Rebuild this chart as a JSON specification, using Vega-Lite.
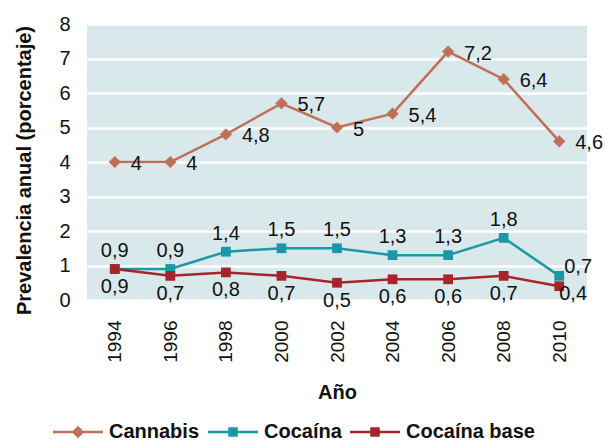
{
  "$schema": "https://vega.github.io/schema/vega-lite/v6.json",
  "width": 500,
  "height": 276,
  "autosize": {"type": "none"},
  "padding": {"left": 87, "top": 24, "right": 18, "bottom": 141},
  "background": "white",
  "config": {
    "font": "Liberation Sans",
    "view": {"fill": "#D9E8EA", "stroke": null},
    "locale": {
      "number": {"decimal": ",", "thousands": ".", "grouping": [3], "currency": ["", ""]}
    },
    "text": {"font": "Liberation Sans", "fontSize": 20, "color": "#111111"}
  },
  "data": {
    "values": [
      {"Año": "1994", "Sustancia": "Cannabis", "valor": 4},
      {"Año": "1996", "Sustancia": "Cannabis", "valor": 4},
      {"Año": "1998", "Sustancia": "Cannabis", "valor": 4.8},
      {"Año": "2000", "Sustancia": "Cannabis", "valor": 5.7},
      {"Año": "2002", "Sustancia": "Cannabis", "valor": 5},
      {"Año": "2004", "Sustancia": "Cannabis", "valor": 5.4},
      {"Año": "2006", "Sustancia": "Cannabis", "valor": 7.2},
      {"Año": "2008", "Sustancia": "Cannabis", "valor": 6.4},
      {"Año": "2010", "Sustancia": "Cannabis", "valor": 4.6},
      {"Año": "1994", "Sustancia": "Cocaína", "valor": 0.9},
      {"Año": "1996", "Sustancia": "Cocaína", "valor": 0.9},
      {"Año": "1998", "Sustancia": "Cocaína", "valor": 1.4},
      {"Año": "2000", "Sustancia": "Cocaína", "valor": 1.5},
      {"Año": "2002", "Sustancia": "Cocaína", "valor": 1.5},
      {"Año": "2004", "Sustancia": "Cocaína", "valor": 1.3},
      {"Año": "2006", "Sustancia": "Cocaína", "valor": 1.3},
      {"Año": "2008", "Sustancia": "Cocaína", "valor": 1.8},
      {"Año": "2010", "Sustancia": "Cocaína", "valor": 0.7},
      {"Año": "1994", "Sustancia": "Cocaína base", "valor": 0.9},
      {"Año": "1996", "Sustancia": "Cocaína base", "valor": 0.7},
      {"Año": "1998", "Sustancia": "Cocaína base", "valor": 0.8},
      {"Año": "2000", "Sustancia": "Cocaína base", "valor": 0.7},
      {"Año": "2002", "Sustancia": "Cocaína base", "valor": 0.5},
      {"Año": "2004", "Sustancia": "Cocaína base", "valor": 0.6},
      {"Año": "2006", "Sustancia": "Cocaína base", "valor": 0.6},
      {"Año": "2008", "Sustancia": "Cocaína base", "valor": 0.7},
      {"Año": "2010", "Sustancia": "Cocaína base", "valor": 0.4}
    ]
  },
  "encoding": {
    "x": {
      "field": "Año",
      "type": "ordinal",
      "scale": {"type": "point", "padding": 0.5},
      "axis": {
        "title": "Año",
        "titleFont": "Liberation Sans",
        "titleFontSize": 20,
        "titleFontWeight": "bold",
        "titleColor": "#111111",
        "titleBaseline": "middle",
        "titleY": 92,
        "labelAngle": -90,
        "labelFont": "Liberation Sans",
        "labelFontSize": 19,
        "labelColor": "#111111",
        "labelPadding": 20,
        "domain": false,
        "ticks": false,
        "grid": false
      }
    },
    "y": {
      "field": "valor",
      "type": "quantitative",
      "scale": {"domain": [0, 8], "nice": false},
      "axis": {
        "title": "Prevalencia anual (porcentaje)",
        "titleFont": "Liberation Sans",
        "titleFontSize": 20,
        "titleFontWeight": "bold",
        "titleColor": "#111111",
        "titleAngle": -90,
        "titleAlign": "center",
        "titleBaseline": "middle",
        "titleX": -63,
        "titleY": 146,
        "values": [0, 1, 2, 3, 4, 5, 6, 7, 8],
        "labelFont": "Liberation Sans",
        "labelFontSize": 20,
        "labelColor": "#111111",
        "labelPadding": 17,
        "domain": false,
        "ticks": false,
        "grid": true,
        "gridColor": "white",
        "gridWidth": 2.5,
        "gridOpacity": 1
      }
    }
  },
  "layer": [
    {
      "mark": {"type": "line", "strokeWidth": 2.5},
      "encoding": {
        "color": {
          "field": "Sustancia",
          "type": "nominal",
          "scale": {
            "domain": ["Cannabis", "Cocaína", "Cocaína base"],
            "range": ["#C0705A", "#1A98A6", "#A4252B"]
          },
          "legend": {
            "orient": "none",
            "direction": "horizontal",
            "legendX": -34,
            "legendY": 383,
            "title": null,
            "symbolSize": 2500,
            "symbolStrokeWidth": 0,
            "labelFont": "Liberation Sans",
            "labelFontSize": 20,
            "labelFontWeight": "bold",
            "labelColor": "#111111",
            "labelOffset": 6,
            "columnPadding": 8,
            "encode": {
              "symbols": {
                "update": {
                  "shape": {
                    "signal": "datum.value === 'Cannabis' ? 'M-1,-0.05L1,-0.05L1,0.05L-1,0.05Z M0,-0.25L0.25,0L0,0.25L-0.25,0Z' : 'M-1,-0.05L1,-0.05L1,0.05L-1,0.05Z M-0.19,-0.19L0.19,-0.19L0.19,0.19L-0.19,0.19Z'"
                  },
                  "size": {"value": 2500},
                  "fill": {"scale": "color", "field": "value"},
                  "fillOpacity": {"value": 1},
                  "strokeWidth": {"value": 0}
                }
              }
            }
          }
        }
      }
    },
    {
      "transform": [{"filter": "datum.Sustancia === 'Cannabis'"}],
      "mark": {"type": "point", "shape": "diamond", "size": 150, "filled": true, "opacity": 1},
      "encoding": {
        "color": {"field": "Sustancia", "type": "nominal", "legend": null}
      }
    },
    {
      "transform": [{"filter": "datum.Sustancia !== 'Cannabis'"}],
      "mark": {"type": "point", "shape": "square", "size": 95, "filled": true, "opacity": 1},
      "encoding": {
        "color": {"field": "Sustancia", "type": "nominal", "legend": null}
      }
    },
    {
      "transform": [{"filter": "datum.Sustancia === 'Cannabis'"}],
      "mark": {"type": "text", "align": "left", "baseline": "middle", "dx": 16, "dy": 2},
      "encoding": {"text": {"field": "valor", "type": "quantitative", "format": "~g"}}
    },
    {
      "transform": [{"filter": "datum.Sustancia === 'Cocaína' && datum['Año'] !== '2010'"}],
      "mark": {"type": "text", "align": "center", "baseline": "middle", "dy": -18},
      "encoding": {"text": {"field": "valor", "type": "quantitative", "format": "~g"}}
    },
    {
      "transform": [{"filter": "datum.Sustancia === 'Cocaína' && datum['Año'] === '2010'"}],
      "mark": {"type": "text", "align": "left", "baseline": "middle", "dx": 5, "dy": -9},
      "encoding": {"text": {"field": "valor", "type": "quantitative", "format": "~g"}}
    },
    {
      "transform": [{"filter": "datum.Sustancia === 'Cocaína base' && datum['Año'] !== '2010'"}],
      "mark": {"type": "text", "align": "center", "baseline": "middle", "dy": 18},
      "encoding": {"text": {"field": "valor", "type": "quantitative", "format": "~g"}}
    },
    {
      "transform": [{"filter": "datum.Sustancia === 'Cocaína base' && datum['Año'] === '2010'"}],
      "mark": {"type": "text", "align": "left", "baseline": "middle", "dx": 0, "dy": 8},
      "encoding": {"text": {"field": "valor", "type": "quantitative", "format": "~g"}}
    }
  ]
}
